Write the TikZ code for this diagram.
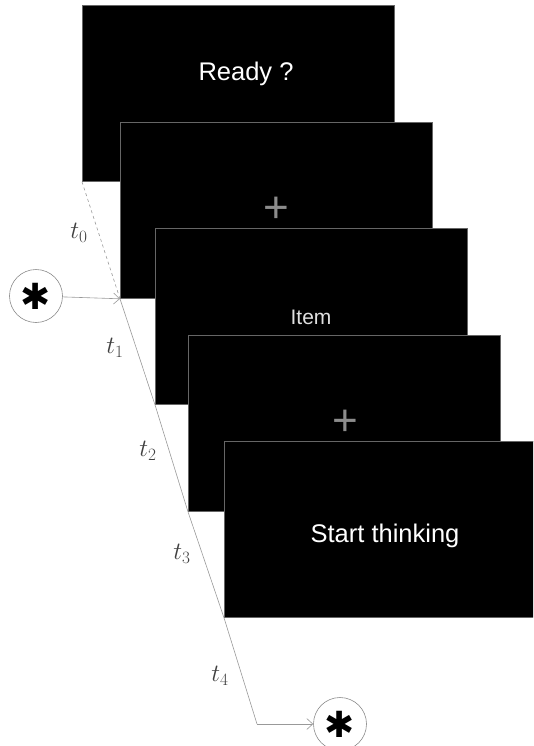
\documentclass[tikz,border=0pt]{standalone}
\usepackage{fontspec}
\newfontfamily\arialf{Liberation Sans}
\newfontfamily\symf{DejaVu Sans}
\usetikzlibrary{arrows.meta}
\begin{document}
\begin{tikzpicture}[x=1pt,y=-1pt,
  screen/.style={draw=black!60, fill=black, line width=0.8pt, minimum width=312pt, minimum height=176pt, inner sep=0pt, anchor=north west},
  stxt/.style={text=white, font=\arialf\fontsize{25.5}{25.5}\selectfont, inner sep=0pt},
  plussign/.style={text=black!45, font=\arialf\fontsize{44}{44}\selectfont, inner sep=0pt},
  tl/.style={draw=black!40, line width=0.6pt},
  tlab/.style={font=\fontsize{23}{23}\selectfont, inner sep=0pt, text=black!75},
  starc/.style={circle, draw=black!45, line width=0.6pt, minimum size=53pt, inner sep=0pt, fill=white},
  astx/.style={inner sep=0pt, font=\symf\fontsize{36}{36}\selectfont}
]
\useasboundingbox (0,0) rectangle (533,746);
\clip (0,0) rectangle (533,746);
\node[screen] (s1) at (82,5) {};
\node[stxt] (r) at (246,74) {Ready ?};
\node[screen] (s2) at (120,122) {};
\node[plussign] (p1) at (276,210) {+};
\node[screen] (s3) at (155,228) {};
\node[text=black!12, font=\arialf\fontsize{21}{21}\selectfont, inner sep=0pt] (it) at (311,317) {Item};
\node[screen] (s4) at (188,335) {};
\node[plussign] (p2) at (345,423) {+};
\node[screen, minimum width=330pt] (s5) at (224,441) {};
\node[stxt] (st) at (385,536) {Start thinking};

\node[starc] (a1) at (36,296) {};
\node[astx] (k1) at (a1.center) {✱};
\node[starc] (a2) at (340,724) {};
\node[astx] (k2) at (a2.center) {✱};
\coordinate (c4) at (257,724);

\draw[tl, dashed] (s1.south west) -- (s2.south west);
\draw[tl] (s2.south west) -- (s3.south west) -- (s4.south west) -- (s5.south west) -- (c4);
\draw[tl, -{Straight Barb[length=6pt,width=11pt]}] (a1) -- (s2.south west);
\draw[tl, -{Straight Barb[length=6pt,width=11pt]}] (c4) -- (a2);

\node[tlab] (t0) at (79,233) {$t_0$};
\node[tlab] (t1) at (115,348) {$t_1$};
\node[tlab] (t2) at (148,451) {$t_2$};
\node[tlab] (t3) at (182,554) {$t_3$};
\node[tlab] (t4) at (220,676) {$t_4$};
\end{tikzpicture}
\end{document}
